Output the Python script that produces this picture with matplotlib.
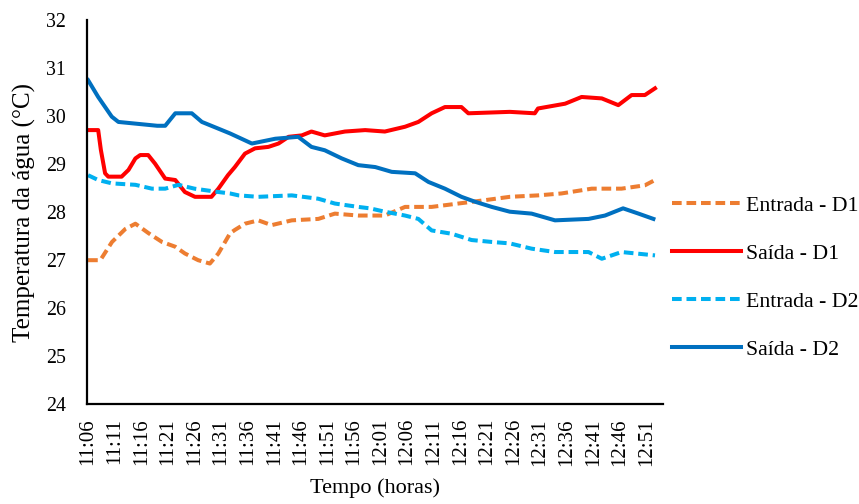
import numpy as np
from matplotlib import pyplot as plt

plt.rcParams['font.family'] = ['Liberation Serif', 'DejaVu Serif']

# minutes after 11:06 and temperatures (°C)
t_ent1 = [0, 2.3, 4.5, 7, 8.9, 11.4, 13.9, 16.4, 18.2, 20.7, 22.9, 24.5, 26.7, 27.6, 29.5, 32, 34.5, 38.3, 43.3,
          46.4, 50.8, 53, 55.8, 59.6, 64.6, 69.6, 74.6, 79.3, 84.6, 89, 94.7, 100.3, 104.7, 106.6]
ent1 = [27.0, 27.0, 27.38, 27.65, 27.76, 27.56, 27.38, 27.28, 27.14, 27.0, 26.93, 27.14, 27.56, 27.63, 27.76, 27.83,
        27.73, 27.83, 27.86, 27.97, 27.93, 27.93, 27.93, 28.11, 28.11, 28.18, 28.25, 28.32, 28.35, 28.39, 28.49, 28.49,
        28.56, 28.67]

t_sai1 = [0, 1.9, 2.4, 3.2, 3.8, 6.3, 7.6, 8.9, 9.8, 11.3, 12.6, 14.5, 16.4, 18.2, 20.1, 23.2, 24.5, 26.3, 27.6,
          29.5, 31.4, 33.9, 35.8, 37.7, 40.2, 42, 44.5, 48.3, 52.1, 55.8, 59.6, 62.1, 64.6, 67.1, 70.2, 71.5, 79.3,
          84, 84.6, 89.7, 92.8, 96.6, 99.7, 102.2, 104.7, 106.6]
sai1 = [29.71, 29.71, 29.3, 28.81, 28.74, 28.74, 28.88, 29.12, 29.19, 29.19, 29.01, 28.7, 28.67, 28.42, 28.32, 28.32,
        28.49, 28.77, 28.94, 29.22, 29.33, 29.36, 29.43, 29.57, 29.6, 29.68, 29.6, 29.68, 29.71, 29.68, 29.78, 29.88,
        30.06, 30.19, 30.19, 30.06, 30.09, 30.06, 30.16, 30.26, 30.4, 30.37, 30.23, 30.44, 30.44, 30.58]

t_ent2 = [0, 1.9, 4.5, 8.9, 12, 14.5, 17, 20, 24.5, 26.7, 28.3, 32, 38.3, 43.3, 46.4, 50.8, 53, 55.8, 59.6, 62.1,
          64.6, 68.4, 72.1, 75.9, 79.3, 83.4, 87.8, 94.1, 96.6, 100.3, 106.6]
ent2 = [28.77, 28.67, 28.6, 28.57, 28.49, 28.49, 28.57, 28.49, 28.42, 28.39, 28.35, 28.32, 28.35, 28.28, 28.18,
        28.11, 28.08, 28.01, 27.93, 27.86, 27.62, 27.55, 27.42, 27.38, 27.35, 27.24, 27.17, 27.17, 27.03, 27.17, 27.1]

t_sai2 = [0, 1.9, 4.45, 5.7, 13, 14.5, 16.4, 19.5, 21.4, 24.5, 26.7, 30.8, 35.2, 39.5, 42, 44.5, 47.7, 50.8, 54,
          57.1, 61.5, 64, 67.1, 70.2, 72.7, 75.9, 79.3, 83.4, 87.8, 94.1, 97.2, 100.6, 103.5, 106.3]
sai2 = [30.75, 30.4, 29.99, 29.88, 29.8, 29.8, 30.06, 30.06, 29.88, 29.74, 29.64, 29.43, 29.53, 29.57, 29.36, 29.29,
        29.12, 28.98, 28.94, 28.84, 28.81, 28.63, 28.49, 28.32, 28.22, 28.11, 28.01, 27.97, 27.83, 27.86, 27.93,
        28.08, 27.97, 27.86]

tick_pos = list(range(0, 106, 5))
tick_lab = ['11:06', '11:11', '11:16', '11:21', '11:26', '11:31', '11:36', '11:41', '11:46', '11:51', '11:56',
            '12:01', '12:06', '12:11', '12:16', '12:21', '12:26', '12:31', '12:36', '12:41', '12:46', '12:51']

fig = plt.figure(figsize=(8.59, 5.04), dpi=100)
ax = fig.add_axes([0.1013, 0.198, 0.6705, 0.762])

lw = 2.9
dash = (2.4, 1.2)
ax.plot(t_ent1, ent1, color='#ED7D31', lw=lw, dashes=dash, label='Entrada - D1')
ax.plot(t_sai1, sai1, color='#FF0000', lw=lw, label='Saída - D1')
ax.plot(t_ent2, ent2, color='#00B0F0', lw=lw, dashes=dash, label='Entrada - D2')
ax.plot(t_sai2, sai2, color='#0070C0', lw=lw, label='Saída - D2')

ax.set_xlim(-0.2, 108.1)
ax.set_ylim(24, 32)
ax.set_yticks(range(24, 33))
ax.set_xticks(tick_pos)
ax.set_xticklabels(tick_lab, rotation=90)
ax.tick_params(length=0)
ax.tick_params(axis='y', pad=15, labelsize=14.3)
ax.tick_params(axis='x', pad=10, labelsize=15)
for s in ['top', 'right']:
    ax.spines[s].set_visible(False)
for s in ['left', 'bottom']:
    ax.spines[s].set_linewidth(1.6)

ax.set_xlabel('Tempo (horas)', fontsize=16, labelpad=9)
ax.set_ylabel('Temperatura da água (°C)', fontsize=18, labelpad=7)

ax.legend(loc='center left', bbox_to_anchor=(1.0, 0.329), frameon=False, fontsize=15.7,
          handlelength=3.2, labelspacing=1.27, borderaxespad=0, handletextpad=0.2)

fig.savefig('out.png')
